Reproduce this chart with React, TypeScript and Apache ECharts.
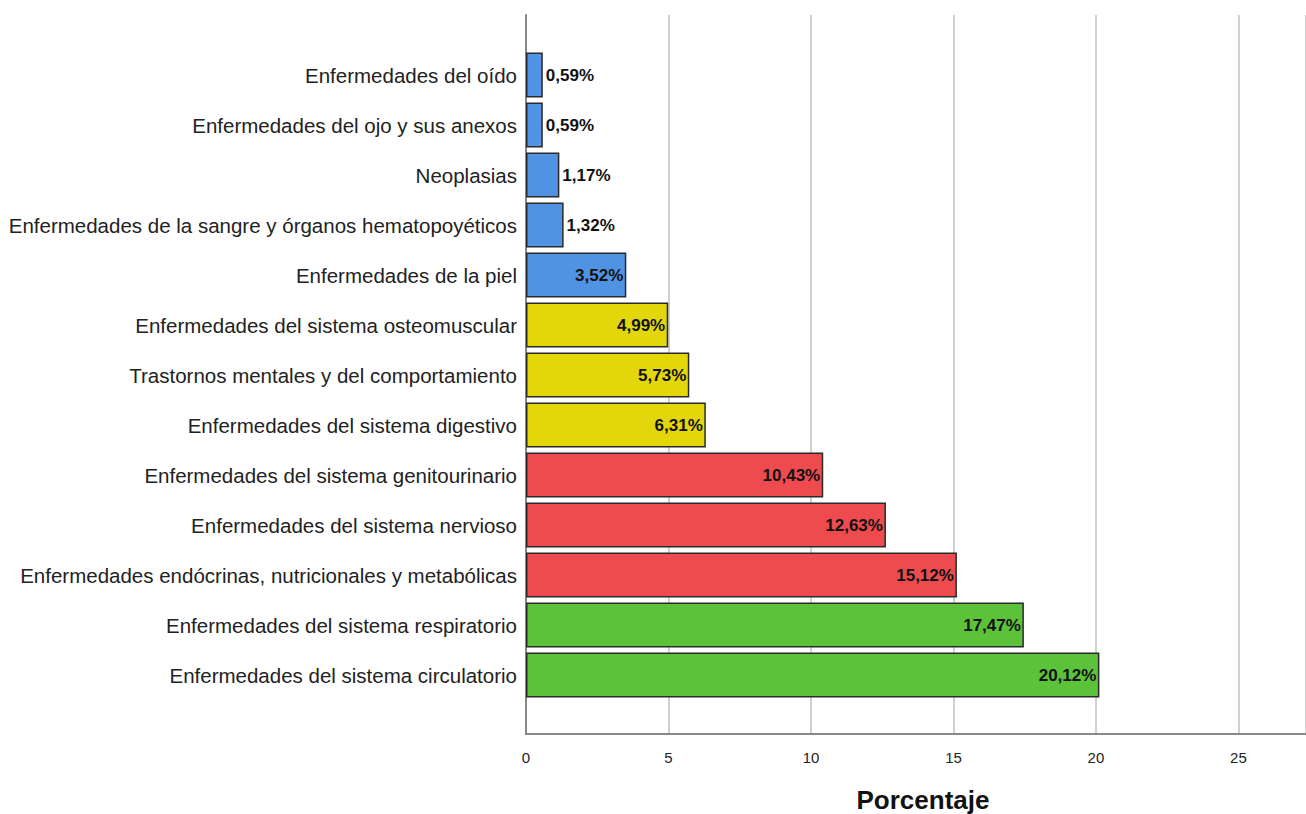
import React, { useEffect, useRef } from "react";
import * as echarts from "echarts";

// Categories, listed top to bottom
const categories = [
  "Enfermedades del oído",
  "Enfermedades del ojo y sus anexos",
  "Neoplasias",
  "Enfermedades de la sangre y órganos hematopoyéticos",
  "Enfermedades de la piel",
  "Enfermedades del sistema osteomuscular",
  "Trastornos mentales y del comportamiento",
  "Enfermedades del sistema digestivo",
  "Enfermedades del sistema genitourinario",
  "Enfermedades del sistema nervioso",
  "Enfermedades endócrinas, nutricionales y metabólicas",
  "Enfermedades del sistema respiratorio",
  "Enfermedades del sistema circulatorio",
];

const percentages = [0.59, 0.59, 1.17, 1.32, 3.52, 4.99, 5.73, 6.31, 10.43, 12.63, 15.12, 17.47, 20.12];

// Colour group of each bar
const groups = [0, 0, 0, 0, 0, 1, 1, 1, 2, 2, 2, 3, 3];
const groupColors = ["#5193e3", "#e3d70c", "#ee4b4e", "#5cc23a"];

const xTicks = [0, 5, 10, 15, 20, 25];

const fmt = (v: number) => v.toFixed(2).replace(".", ",") + "%";

export default function App() {
  const ref = useRef<HTMLDivElement>(null);

  useEffect(() => {
    if (!ref.current) return;
    const chart = echarts.init(ref.current, undefined, { renderer: "svg" });
    const xMax = 27.37;
    const font = "'Liberation Sans', Arial, sans-serif";

    chart.setOption({
      animation: false,
      backgroundColor: "#ffffff",
      grid: [
        // bars
        { left: 526, right: 0, top: 50, height: 650, outerBoundsMode: "none" },
        // frame: axis lines, gridlines and tick labels
        { left: 526, right: 0, top: 15, bottom: 80, outerBoundsMode: "none" },
      ],
      xAxis: [
        {
          gridIndex: 0,
          type: "value",
          min: 0,
          max: xMax,
          show: false,
        },
        {
          gridIndex: 1,
          type: "value",
          min: 0,
          max: xMax,
          interval: 5,
          axisLine: { show: true, lineStyle: { color: "#888888", width: 2 } },
          axisTick: { show: false },
          splitLine: { show: true, lineStyle: { color: "#d0d0d0", width: 2 } },
          axisLabel: {
            color: "#222222",
            fontFamily: font,
            fontSize: 15,
            margin: 16,
            formatter: (v: number) => (xTicks.includes(v) ? String(v) : ""),
          },
          name: "Porcentaje",
          nameLocation: "middle",
          nameGap: 53,
          nameTextStyle: {
            color: "#111111",
            fontFamily: font,
            fontSize: 26,
            fontWeight: "bold",
            padding: [0, 0, 0, 14],
          },
        },
      ],
      yAxis: [
        {
          gridIndex: 0,
          type: "category",
          data: categories,
          inverse: true,
          axisLine: { show: false },
          axisTick: { show: false },
          axisLabel: {
            color: "#222222",
            fontFamily: font,
            fontSize: 20.5,
            margin: 9,
          },
        },
        {
          gridIndex: 1,
          type: "value",
          min: 0,
          max: 1,
          axisLine: { show: true, lineStyle: { color: "#888888", width: 2 } },
          axisTick: { show: false },
          axisLabel: { show: false },
          splitLine: { show: false },
        },
      ],
      series: [
        {
          type: "bar",
          xAxisIndex: 0,
          yAxisIndex: 0,
          barCategoryGap: "10%",
          z: 5,
          data: percentages.map((v, i) => {
            const inside = v >= 3;
            return {
              value: v,
              itemStyle: {
                color: groupColors[groups[i]],
                borderColor: "#2a2a2a",
                borderWidth: 1.5,
              },
              label: {
                show: true,
                position: inside ? "insideRight" : "right",
                distance: 3,
                formatter: fmt(v),
                color: "#111111",
                fontFamily: font,
                fontSize: 17,
                fontWeight: "bold",
              },
            };
          }),
        },
      ],
    });

    return () => chart.dispose();
  }, []);

  return (
    <div
      ref={ref}
      style={{ position: "fixed", left: 0, top: 0, width: 1306, height: 814 }}
    />
  );
}
